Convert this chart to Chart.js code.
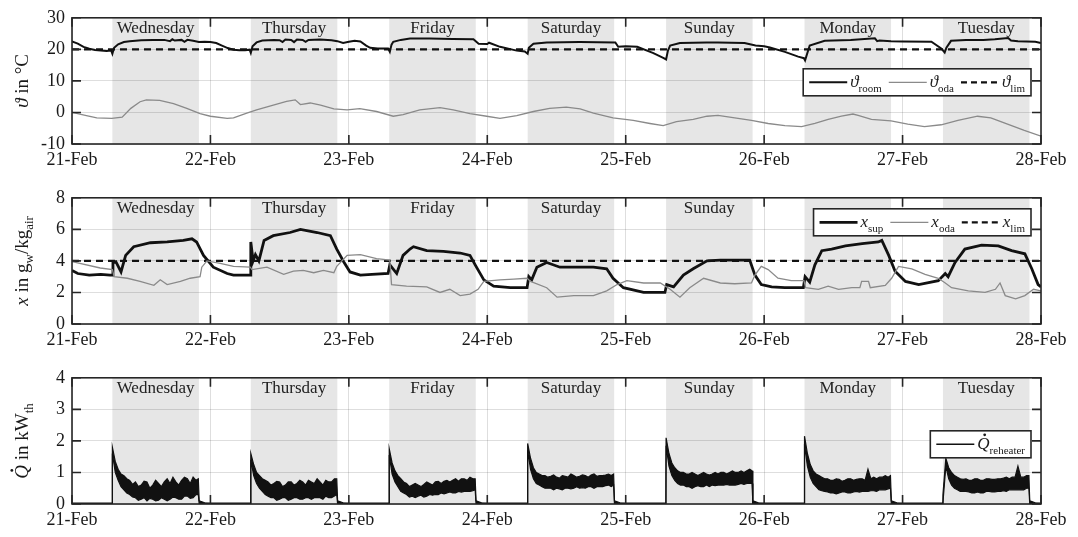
<!DOCTYPE html>
<html>
<head>
<meta charset="utf-8">
<script src="https://cdn.jsdelivr.net/npm/chart.js@4/dist/chart.umd.min.js"></script>
<style>
  html, body { margin: 0; padding: 0; background: #fff; overflow: hidden; }
  canvas { display: block; }
</style>
</head>
<body>
<canvas id="c1" width="1078" height="180"></canvas>
<canvas id="c2" width="1078" height="180"></canvas>
<canvas id="c3" width="1078" height="180"></canvas>
<script>
// x axis: hours from 21-Feb 00:00
const dayTicks = ['21-Feb', '22-Feb', '23-Feb', '24-Feb', '25-Feb', '26-Feb', '27-Feb', '28-Feb'];
const dayNames = ['Wednesday', 'Thursday', 'Friday', 'Saturday', 'Sunday', 'Monday', 'Tuesday'];
const occFrom = 7, occTo = 22;   // shaded hours of each day

// panel 1 - temperatures
const tRoom = [0,1,2,3,4,5,6,6.8,7.0,7.3,8,9,10,12,14,16,17,17.4,17.8,19,19.5,20,21,22,23,
  24,25,26,27,28,29,30,30.8,31,31.3,32,33,35,36,36.5,37,38,38.5,39,40,40.5,41,43,45,46,47,48,
  49,50,51,51.7,53,54.8,55.1,55.4,55.7,57,58.6,62,66,69.6,70.5,72,72.3,74.2,77.1,78.5,79.0,79.2,80,82.3,88,94.2,94.7,96,98,100.8,102.5,103.0,103.3,103.7,105.4,110,
  112,116.6,118.5,120,121,123.6,125.9,126.9,127.1,127.9,130.5,135,139.2,139.6,140,142,144,149,150.7,151.3,151.6,152.4,155,158,160,162.3,162.8,164,167,168];
const vRoom = [22.5,21.8,20.8,20.2,19.8,19.6,19.5,19.6,18.6,20.5,21.6,22.3,22.6,22.9,23.0,23.0,22.6,23.2,22.8,23.0,22.4,23.0,22.7,22.3,22.4,
  22.3,22.0,21.2,20.4,19.9,19.7,19.7,19.9,18.9,21.0,22.2,22.8,23.0,22.9,22.3,23.1,23.0,22.3,23.1,23.0,22.4,23.0,23.1,22.9,22.6,22.0,22.4,
  22.7,22.5,21.2,20.5,20.3,20.3,19.2,21.5,22.4,23.0,23.4,23.4,23.3,23.2,21.8,21.7,22.1,20.8,19.6,19.3,18.6,20.5,21.8,22.2,22.3,22.2,20.8,21.0,20.8,18.8,17.3,16.8,19.5,21.2,22.0,22.2,
  22.2,22.0,21.2,21.0,20.6,19.2,17.7,17.2,16.5,21.2,22.7,23.0,23.5,22.6,22.8,22.6,22.5,22.4,20.3,19.0,20.5,22.7,23.0,23.0,23.2,23.6,22.8,22.6,22.4,22.0];
const tOda = [0,2.5,4.3,6.9,8.7,10.2,11.8,12.9,15.2,17.6,19.9,22.2,24,26.9,28,30.3,32,34.9,37.2,38.7,39.6,41.3,43.1,45.4,47.7,
  49.9,52.8,55.7,57.4,60.3,63.8,66.1,69,71.9,74.2,77.1,80,82.8,85.7,88.1,90.4,93.8,97.3,100.2,102.5,104.8,107.7,110.1,
  112,114.9,117.8,120.7,123.6,126.5,128.8,131.1,133.4,135.4,136.3,138.6,142,144.9,147.8,150.7,153.6,157,159.3,162.2,165.1,168];
const vOda = [0,-1.0,-1.7,-1.9,-1.5,1.3,3.4,4.0,3.8,2.8,1.3,-0.4,-1.2,-1.9,-1.7,-0.2,0.8,2.3,3.5,4.0,2.5,3.0,2.3,1.1,0.8,
  1.2,0.3,-1.2,-0.7,0.8,1.5,0.8,-0.4,-1.2,-1.9,-1.0,0.3,1.3,1.7,1.1,-0.2,-1.7,-2.5,-3.5,-4.2,-2.9,-2.2,-1.2,
  -0.9,-1.7,-2.5,-3.5,-4.2,-4.5,-3.5,-2.2,-1.2,-0.5,-0.9,-2.2,-2.7,-3.7,-4.5,-3.9,-2.5,-1.2,-1.7,-3.7,-5.7,-7.5];
const thetaLim = 20;

// panel 2 - humidity ratio
const tSup = [0,1,3,5,6.6,6.95,7.1,7.6,8.5,9.3,10.7,13.6,16.5,19.3,20.8,21.6,22.8,24.5,26.9,28,
  30.9,31.0,31.4,31.8,32.4,33.3,34.9,37.8,39.6,42.5,44.8,45.9,47.1,48.2,50,52,54.8,55.1,56.3,57.4,
  58.6,59.2,61.5,64.4,67.3,69,69.9,71.4,73.1,76,78.9,79.2,79.7,80.6,82.3,84.6,87.5,90.4,92.7,93.8,
  95.6,99.1,102.8,103.1,104.3,106,107.7,110.1,112.4,117.5,118.4,119.5,121.3,123.6,126.8,127.1,127.9,128.8,130,131.7,
  134.1,137,139.8,140.4,141.6,142.7,144.5,146.8,150.2,151.4,151.9,153.1,154.8,157.7,160.6,162.9,165.2,166.4,167.5,168];
const vSup = [3.4,3.2,3.1,3.15,3.1,3.1,3.9,3.95,3.3,4.35,4.9,5.15,5.2,5.3,5.4,5.2,4.35,3.6,3.2,3.1,
  3.1,5.2,4.0,4.4,4.0,5.3,5.6,5.8,6.0,5.8,5.6,4.75,3.95,3.3,3.1,3.15,3.2,3.75,3.2,4.35,
  4.75,4.9,4.65,4.6,4.5,4.35,3.75,2.8,2.4,2.3,2.3,3.0,2.8,3.6,3.9,3.6,3.6,3.6,3.5,2.9,
  2.3,2.0,2.0,2.5,2.35,3.1,3.5,4.0,4.05,4.05,3.1,2.5,2.35,2.3,2.3,3.0,2.65,3.75,4.65,4.75,
  4.95,5.1,5.2,5.3,4.35,3.35,2.7,2.5,2.75,3.2,3.0,3.9,4.75,5.0,4.95,4.65,4.45,3.5,2.5,2.35];
const tXoda = [0,4.9,7,7.3,9.6,11.8,14.2,15.3,16.5,18.8,20.5,22.2,22.5,23.4,25.7,28,30.9,31.2,33.8,36.7,
  38.4,40.1,41.9,43.6,45.4,45.9,47.7,50,52.8,55.1,55.4,58,61.5,63.8,65.5,67.3,69,70.4,71.4,74.2,
  76.6,78.9,79.5,82.3,84.1,87,90.4,92.7,94.5,96.2,99.1,102,103.7,105.4,107.1,109.5,112.4,114.9,117.8,118.4,
  119.5,120.7,122.4,124.7,126.9,127.2,129.4,131.1,132.9,135.2,136.6,136.9,138.1,138.4,141,142.1,143.3,145.6,147.9,150.2,
  151.4,152.5,155.4,158.3,160.1,160.9,161.8,163.6,165.2,166.7,168];
const vXoda = [3.95,3.55,3.45,3.0,2.9,2.7,2.45,2.8,2.5,2.7,2.9,3.0,3.6,4.0,3.85,3.65,3.6,3.45,3.6,3.15,
  3.35,3.4,3.25,3.4,3.25,3.65,4.35,4.4,4.15,4.05,2.5,2.4,2.35,2.0,2.2,1.8,1.9,2.2,2.7,2.8,
  2.85,2.9,2.7,2.3,1.7,1.8,1.8,2.1,2.5,2.75,2.6,2.6,2.2,1.7,2.3,2.9,2.6,2.55,2.6,3.1,
  3.65,3.45,2.9,2.75,2.75,2.3,2.2,2.4,2.2,2.3,2.3,2.7,2.7,2.3,2.45,2.9,3.65,3.5,3.15,2.9,
  2.6,2.3,2.1,2.0,2.2,2.6,1.8,1.6,1.8,2.2,2.1];
const xLim = 4;

// panel 3 - reheater power, upper / lower edge of the noisy band per day
const qHour = [0,6.97,7.0,7.5,8,8.5,9,9.5,10,10.5,11,11.5,12,12.5,13,13.5,14,14.5,15,15.5,16,16.5,
  17,17.5,18,18.5,19,19.5,20,20.5,21,21.5,21.9,22.05,23];
const qHigh = [
  [0.03,0.03,1.8,1.35,1.1,0.95,0.9,0.8,0.75,0.62,0.7,0.55,0.6,0.72,0.7,0.5,0.6,0.75,0.65,0.55,0.7,0.8,0.65,0.85,0.7,0.6,0.75,0.85,0.8,0.65,0.85,0.75,0.8,0.1,0.04],
  [0.03,0.03,1.6,1.25,1.0,0.9,0.8,0.75,0.7,0.6,0.65,0.72,0.7,0.55,0.6,0.7,0.7,0.6,0.65,0.75,0.7,0.6,0.75,0.7,0.65,0.8,0.7,0.6,0.75,0.7,0.7,0.8,0.8,0.1,0.04],
  [0.03,0.03,1.75,1.3,1.05,0.9,0.8,0.7,0.65,0.55,0.6,0.65,0.6,0.55,0.62,0.7,0.65,0.6,0.7,0.72,0.65,0.72,0.75,0.7,0.75,0.8,0.72,0.8,0.8,0.75,0.85,0.8,0.8,0.1,0.04],
  [0.03,0.03,1.92,1.45,1.15,1.0,0.95,0.9,0.9,0.85,0.88,0.92,0.85,0.82,0.9,0.88,0.85,0.95,0.9,0.85,0.88,0.92,0.9,0.85,0.92,0.95,0.88,0.9,0.9,0.92,0.95,0.9,0.95,0.1,0.04],
  [0.03,0.03,2.1,1.6,1.3,1.15,1.05,1.0,1.0,0.95,0.95,1.0,0.95,0.9,0.95,1.0,0.95,0.92,0.95,1.0,0.95,1.0,1.0,0.95,1.0,1.05,1.0,1.0,1.05,1.0,1.05,1.1,1.05,0.1,0.04],
  [0.03,0.03,2.15,1.6,1.25,1.05,0.95,0.9,0.85,0.8,0.8,0.75,0.75,0.8,0.78,0.72,0.75,0.8,0.8,0.75,0.78,0.8,0.8,0.75,1.1,0.8,0.85,0.8,0.85,0.85,0.9,0.85,0.9,0.1,0.04],
  [0.03,0.03,0.3,1.45,1.15,1.0,0.9,0.85,0.8,0.78,0.8,0.75,0.75,0.8,0.8,0.75,0.75,0.8,0.8,0.78,0.78,0.8,0.8,0.82,0.85,0.8,0.85,0.85,1.2,0.85,0.85,0.9,0.9,0.1,0.04]
];
const qLow = [
  [0,0,1.6,1.0,0.75,0.55,0.45,0.35,0.3,0.22,0.2,0.12,0.15,0.2,0.1,0.18,0.15,0.1,0.12,0.2,0.15,0.1,0.15,0.22,0.2,0.15,0.15,0.25,0.25,0.18,0.2,0.3,0.3,0,0],
  [0,0,1.4,0.9,0.65,0.5,0.4,0.3,0.25,0.2,0.2,0.12,0.15,0.2,0.2,0.12,0.15,0.2,0.2,0.15,0.15,0.2,0.2,0.15,0.2,0.2,0.2,0.15,0.25,0.2,0.2,0.25,0.3,0,0],
  [0,0,1.55,0.95,0.7,0.55,0.4,0.35,0.3,0.22,0.25,0.2,0.25,0.28,0.22,0.25,0.3,0.28,0.3,0.3,0.35,0.32,0.35,0.38,0.35,0.35,0.4,0.38,0.4,0.4,0.4,0.42,0.45,0,0],
  [0,0,1.7,1.1,0.8,0.65,0.6,0.55,0.5,0.5,0.5,0.45,0.5,0.48,0.45,0.5,0.5,0.48,0.5,0.55,0.5,0.52,0.5,0.55,0.55,0.5,0.55,0.55,0.55,0.58,0.6,0.55,0.6,0,0],
  [0,0,1.85,1.2,0.9,0.75,0.65,0.6,0.6,0.55,0.55,0.5,0.55,0.58,0.55,0.55,0.6,0.55,0.6,0.58,0.6,0.6,0.6,0.62,0.6,0.6,0.6,0.62,0.65,0.62,0.65,0.65,0.65,0,0],
  [0,0,1.9,1.2,0.85,0.65,0.55,0.45,0.42,0.4,0.38,0.35,0.35,0.32,0.35,0.38,0.38,0.35,0.35,0.38,0.4,0.38,0.4,0.4,0.4,0.42,0.42,0.4,0.45,0.45,0.45,0.48,0.5,0,0],
  [0,0,0.05,1.2,0.8,0.6,0.5,0.45,0.4,0.4,0.4,0.38,0.35,0.35,0.38,0.35,0.35,0.4,0.4,0.38,0.38,0.4,0.4,0.42,0.4,0.45,0.45,0.45,0.45,0.45,0.45,0.5,0.5,0,0]
];

const FONT = '"Liberation Serif", "Times New Roman", serif';
const GRAY = '#8a8a8a';

function pts(ts, vs) {
    return ts.map((t, i) => ({ x: t, y: vs[i] }));
}

let qHiPts = [], qLoPts = [];
qHigh.forEach(function(day, d) {
    qHour.forEach(function(h, k) {
        qHiPts.push({ x: d * 24 + h, y: day[k] });
        qLoPts.push({ x: d * 24 + h, y: qLow[d][k] });
    });
});
qHiPts.push({ x: 168, y: 0.03 });
qLoPts.push({ x: 168, y: 0 });

// text with italic parts, subscripts and a dot accent
function fontOf(s, size) {
    return (s.i ? 'italic ' : '') + Math.round(s.s ? size * 0.66 : size) + 'px ' + FONT;
}
function richWidth(ctx, segs, size) {
    let w = 0;
    segs.forEach(s => { ctx.font = fontOf(s, size); w += ctx.measureText(s.t).width; });
    return w;
}
function drawRich(ctx, segs, x, y, size) {
    segs.forEach(s => {
        ctx.font = fontOf(s, size);
        let w = ctx.measureText(s.t).width;
        ctx.fillText(s.t, x, y + (s.s ? size * 0.28 : 0));
        if (s.dot) {
            ctx.beginPath();
            ctx.arc(x + w * 0.6, y - size * 0.85, 1.4, 0, Math.PI * 2);
            ctx.fill();
        }
        x += w;
    });
}

const decoPlugin = {
    id: 'deco',
    beforeDraw(chart) {
        const ctx = chart.ctx, a = chart.chartArea, xs = chart.scales.x;
        ctx.save();
        ctx.fillStyle = '#e6e6e6';
        dayNames.forEach(function(n, d) {
            let x1 = xs.getPixelForValue(d * 24 + occFrom);
            let x2 = xs.getPixelForValue(d * 24 + occTo);
            ctx.fillRect(x1, a.top, x2 - x1, a.bottom - a.top);
        });
        ctx.restore();
    },
    afterDatasetsDraw(chart) {
        const ctx = chart.ctx, a = chart.chartArea, xs = chart.scales.x;
        const nNames = chart.options.plugins.deco.names;
        ctx.save();
        ctx.fillStyle = '#222';
        ctx.font = '17px ' + FONT;
        ctx.textAlign = 'center';
        ctx.textBaseline = 'middle';
        dayNames.slice(0, nNames).forEach(function(n, d) {
            let xc = xs.getPixelForValue(d * 24 + (occFrom + occTo) / 2);
            ctx.fillText(n, xc, a.top + 11);
        });
        ctx.restore();
    },
    afterDraw(chart) {
        const ctx = chart.ctx, a = chart.chartArea, o = chart.options.plugins.deco;
        const xs = chart.scales.x, ys = chart.scales.y;
        ctx.save();
        // frame and inward ticks
        ctx.strokeStyle = '#262626';
        ctx.lineWidth = 1.6;
        ctx.strokeRect(a.left, a.top, a.right - a.left, a.bottom - a.top);
        ctx.beginPath();
        xs.ticks.forEach(t => {
            let x = xs.getPixelForValue(t.value);
            ctx.moveTo(x, a.bottom); ctx.lineTo(x, a.bottom - 9);
            ctx.moveTo(x, a.top); ctx.lineTo(x, a.top + 9);
        });
        ys.ticks.forEach(t => {
            let y = ys.getPixelForValue(t.value);
            ctx.moveTo(a.left, y); ctx.lineTo(a.left + 9, y);
            ctx.moveTo(a.right, y); ctx.lineTo(a.right - 9, y);
        });
        ctx.stroke();

        // y axis title
        ctx.fillStyle = '#1a1a1a';
        ctx.textBaseline = 'alphabetic';
        let tw = richWidth(ctx, o.title, 19);
        ctx.save();
        ctx.translate(22, (a.top + a.bottom) / 2);
        ctx.rotate(-Math.PI / 2);
        drawRich(ctx, o.title, -tw / 2, 6, 19);
        ctx.restore();

        // legend box
        const size = 17, line = 38, gap = 3, sep = 7, pad = 6;
        let w = pad;
        o.legend.forEach(it => { w += line + gap + richWidth(ctx, it.segs, size) + sep; });
        w += pad - sep;
        let bx = a.right - 10 - w, by = a.top + o.legendTop, bh = 27;
        ctx.fillStyle = '#fff';
        ctx.fillRect(bx, by, w, bh);
        ctx.lineWidth = 1.6;
        ctx.strokeStyle = '#262626';
        ctx.strokeRect(bx, by, w, bh);
        let x = bx + pad, cy = by + bh / 2;
        o.legend.forEach(it => {
            ctx.beginPath();
            ctx.strokeStyle = it.color;
            ctx.lineWidth = it.width;
            ctx.setLineDash(it.dash || []);
            ctx.moveTo(x, cy); ctx.lineTo(x + line, cy);
            ctx.stroke();
            ctx.setLineDash([]);
            x += line + gap;
            ctx.fillStyle = '#1a1a1a';
            drawRich(ctx, it.segs, x, cy + 5, size);
            x += richWidth(ctx, it.segs, size) + sep;
        });
        ctx.restore();
    }
};

function makePanel(id, datasets, yMin, yMax, yStep, title, legend, legendTop, names) {
    let ctx = document.getElementById(id).getContext('2d');
    return new Chart(ctx, {
        type: 'line',
        data: { datasets: datasets },
        plugins: [decoPlugin],
        options: {
            responsive: false,
            animation: false,
            devicePixelRatio: 1,
            layout: { padding: { left: 0, right: 37, top: 14, bottom: 0 } },
            elements: { point: { radius: 0 }, line: { tension: 0 } },
            plugins: {
                legend: { display: false },
                tooltip: { enabled: false },
                deco: { title: title, legend: legend, legendTop: legendTop, names: names }
            },
            scales: {
                x: {
                    type: 'linear', min: 0, max: 168,
                    afterFit: s => { s.height = 36; },
                    border: { display: false },
                    grid: { color: 'rgba(0,0,0,0.13)', drawTicks: false },
                    ticks: {
                        stepSize: 24, autoSkip: false, maxRotation: 0, padding: 5,
                        color: '#1a1a1a', font: { family: FONT, size: 18 },
                        callback: v => dayTicks[Math.round(v / 24)]
                    }
                },
                y: {
                    min: yMin, max: yMax,
                    afterFit: s => { s.width = 72; },
                    border: { display: false },
                    grid: { color: 'rgba(0,0,0,0.13)', drawTicks: false },
                    ticks: {
                        stepSize: yStep, padding: 7,
                        color: '#1a1a1a', font: { family: FONT, size: 18 }
                    }
                }
            }
        }
    });
}

makePanel('c1', [
    { data: pts(tOda, vOda), borderColor: GRAY, borderWidth: 1.3 },
    { data: [{ x: 0, y: thetaLim }, { x: 168, y: thetaLim }], borderColor: '#111', borderWidth: 2.2, borderDash: [7, 5] },
    { data: pts(tRoom, vRoom), borderColor: '#111', borderWidth: 2 }
], -10, 30, 10,
    [{ t: 'ϑ', i: 1 }, { t: ' in °C' }],
    [
        { segs: [{ t: 'ϑ', i: 1 }, { t: 'room', s: 1 }], color: '#111', width: 2 },
        { segs: [{ t: 'ϑ', i: 1 }, { t: 'oda', s: 1 }], color: GRAY, width: 1.3 },
        { segs: [{ t: 'ϑ', i: 1 }, { t: 'lim', s: 1 }], color: '#111', width: 2.2, dash: [6, 4] }
    ], 51, 7);

// Monday / Tuesday labels sit under the legend box in this panel
makePanel('c2', [
    { data: pts(tXoda, vXoda), borderColor: GRAY, borderWidth: 1.3 },
    { data: [{ x: 0, y: xLim }, { x: 168, y: xLim }], borderColor: '#111', borderWidth: 2.2, borderDash: [7, 5] },
    { data: pts(tSup, vSup), borderColor: '#111', borderWidth: 2.8 }
], 0, 8, 2,
    [{ t: 'x', i: 1 }, { t: ' in g' }, { t: 'w', s: 1 }, { t: '/kg' }, { t: 'air', s: 1 }],
    [
        { segs: [{ t: 'x', i: 1 }, { t: 'sup', s: 1 }], color: '#111', width: 2.8 },
        { segs: [{ t: 'x', i: 1 }, { t: 'oda', s: 1 }], color: GRAY, width: 1.3 },
        { segs: [{ t: 'x', i: 1 }, { t: 'lim', s: 1 }], color: '#111', width: 2.2, dash: [6, 4] }
    ], 11, 5);

makePanel('c3', [
    { data: qHiPts, borderColor: '#111', borderWidth: 1.2, backgroundColor: '#111', fill: '+1' },
    { data: qLoPts, borderColor: '#111', borderWidth: 1.2 }
], 0, 4, 1,
    [{ t: 'Q', i: 1, dot: 1 }, { t: ' in kW' }, { t: 'th', s: 1 }],
    [
        { segs: [{ t: 'Q', i: 1, dot: 1 }, { t: 'reheater', s: 1 }], color: '#111', width: 1.6 }
    ], 53, 7);
</script>
</body>
</html>
